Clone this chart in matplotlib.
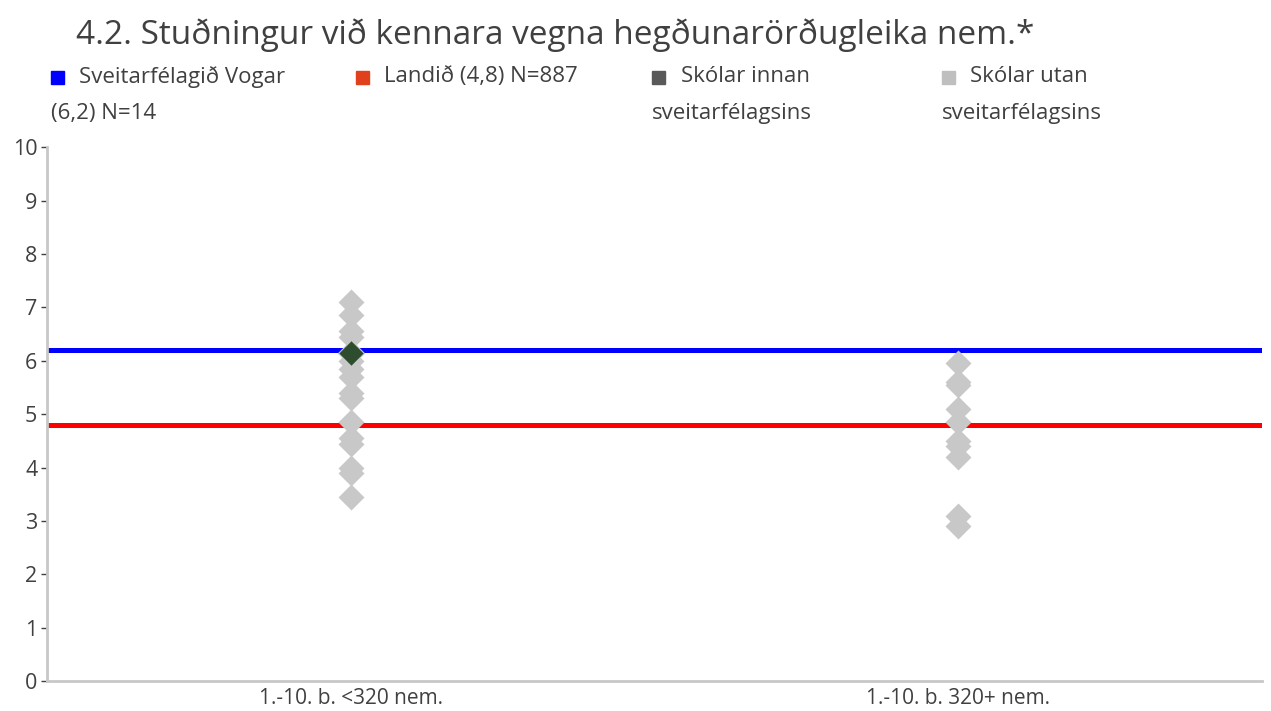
import matplotlib
matplotlib.use("Agg")
import matplotlib.pyplot as plt
from matplotlib.patches import Rectangle

plt.rcParams['font.family'] = ['Open Sans', 'DejaVu Sans']

title = "4.2. Stuðningur við kennara vegna hegðunarörðugleika nem.*"
categories = ["1.-10. b. <320 nem.", "1.-10. b. 320+ nem."]

municipality_mean = 6.2   # Sveitarfélagið Vogar
national_mean = 4.8       # Landið

# schools outside the municipality, per size group
outside_small = [7.1, 6.85, 6.55, 6.45, 6.0, 5.85, 5.7, 5.4, 5.3, 4.85,
                 4.55, 4.45, 4.0, 3.9, 3.45]
outside_large = [5.95, 5.6, 5.55, 5.1, 4.85, 4.5, 4.4, 4.2, 3.1, 2.9]
# schools inside the municipality
inside_small = [6.15]

legend_items = [
    ("Sveitarfélagið Vogar", "(6,2) N=14", "#0000FF"),
    ("Landið (4,8) N=887", "", "#E0401C"),
    ("Skólar innan", "sveitarfélagsins", "#595959"),
    ("Skólar utan", "sveitarfélagsins", "#BFBFBF"),
]

text_col = "#404040"
axis_col = "#C8C8C8"

fig = plt.figure(figsize=(12.71, 7.11), dpi=100)
ax = fig.add_axes([0.037, 0.042, 0.956, 0.751])

ax.axhline(municipality_mean, color="#0000FF", lw=3.6, zorder=2)
ax.axhline(national_mean, color="#FF0000", lw=3.6, zorder=2)

ax.plot([0] * len(outside_small), outside_small, ls="none", marker="D",
        ms=13, color="#C8C8C8", mec="none", zorder=3)
ax.plot([1] * len(outside_large), outside_large, ls="none", marker="D",
        ms=13, color="#C8C8C8", mec="none", zorder=3)
ax.plot([0] * len(inside_small), inside_small, ls="none", marker="D",
        ms=13, color="#2E4D2E", mec="#C8C8C8", mew=0.8, zorder=4)

ax.set_xlim(-0.5, 1.5)
ax.set_ylim(0, 10)
ax.set_yticks(range(0, 11))
ax.set_xticks([0, 1])
ax.set_xticklabels(categories)

for side in ("top", "right"):
    ax.spines[side].set_visible(False)
for side in ("left", "bottom"):
    ax.spines[side].set_color(axis_col)
    ax.spines[side].set_linewidth(2)

ax.tick_params(axis="y", colors=text_col, labelsize=15.5, length=4,
               width=1, color=text_col, pad=3)
ax.tick_params(axis="x", colors=text_col, labelsize=15, length=0, pad=5)

fig.text(0.06, 0.951, title, fontsize=24, color=text_col, va="center")

# legend laid out by hand so the labels wrap under the markers
legend_x = [0.040, 0.280, 0.513, 0.741]
row1, row2 = 0.892, 0.840
for x, (line1, line2, col), in zip(legend_x, legend_items):
    fig.patches.append(Rectangle((x, row1 - 0.0105), 0.0105, 0.019,
                                 transform=fig.transFigure, color=col))
    fig.text(x + 0.0225, row1, line1, fontsize=16, color=text_col, va="center")
    if line2:
        fig.text(x, row2, line2, fontsize=16, color=text_col, va="center")

fig.savefig("out.png", dpi=100)
